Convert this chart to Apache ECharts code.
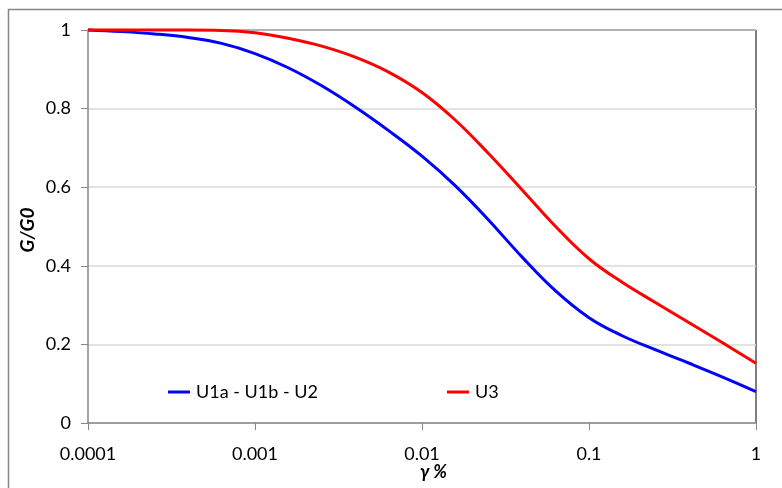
<!DOCTYPE html>
<html>
<head>
<meta charset="utf-8">
<script src="https://cdn.jsdelivr.net/npm/echarts@6/dist/echarts.min.js"></script>
<style>html,body{margin:0;padding:0;background:#fff}#c{width:782px;height:488px}</style>
</head>
<body>
<div id="c"></div>
<script>
const xTicks = [0.0001, 0.001, 0.01, 0.1, 1];
const yTicks = [0, 0.2, 0.4, 0.6, 0.8, 1];
const seriesNames = ['U1a - U1b - U2', 'U3'];
const strainX = [0.0001, 0.000158, 0.000251, 0.000398, 0.000631, 0.001, 0.00158, 0.00251, 0.00398, 0.00631, 0.01, 0.0158, 0.0251, 0.0398, 0.0631, 0.1, 0.158, 0.251, 0.398, 0.631, 1];
const blueY = [1.0, 0.996, 0.990, 0.981, 0.966, 0.940, 0.904, 0.858, 0.804, 0.744, 0.679, 0.604, 0.516, 0.422, 0.336, 0.268, 0.222, 0.186, 0.152, 0.117, 0.080];
const redY = [1.0, 1.0, 1.0, 1.0, 0.999, 0.993, 0.979, 0.959, 0.931, 0.893, 0.841, 0.771, 0.685, 0.593, 0.500, 0.418, 0.358, 0.306, 0.255, 0.204, 0.152];

const FONT = 'Lato';
const chart = echarts.init(document.getElementById('c'), null, {renderer: 'canvas'});
const pair = (xs, ys) => xs.map((x, i) => [x, ys[i]]);
const L = 88, T = 30, R = 756, B = 423;
chart.setOption({
  animation: false,
  backgroundColor: '#fff',
  grid: {left: L, top: T, right: 782 - R, bottom: 488 - B, containLabel: false},
  xAxis: {
    type: 'log', logBase: 10, min: xTicks[0], max: xTicks[xTicks.length - 1],
    axisLine: {show: true, lineStyle: {color: '#868686', width: 1.5}},
    axisTick: {show: true, length: 7, lineStyle: {color: '#868686'}},
    minorTick: {show: false},
    splitLine: {show: false},
    axisLabel: {margin: 22, color: '#000', fontFamily: FONT, fontSize: 18,
      formatter: v => String(parseFloat(Number(v).toPrecision(6)))}
  },
  yAxis: {
    type: 'value', min: yTicks[0], max: yTicks[yTicks.length - 1], interval: 0.2,
    axisLine: {show: true, lineStyle: {color: '#868686', width: 1.5}},
    axisTick: {show: true, length: 7, lineStyle: {color: '#868686'}},
    splitLine: {show: true, lineStyle: {color: '#d9d9d9', width: 1.5}},
    axisLabel: {margin: 17, color: '#000', fontFamily: FONT, fontSize: 18,
      formatter: v => String(parseFloat(Number(v).toPrecision(6)))}
  },
  legend: [
    {data: [seriesNames[0]], left: 163, top: 378, icon: 'rect', itemWidth: 22, itemHeight: 3, itemGap: 0,
     textStyle: {fontFamily: FONT, fontSize: 18, color: '#000', padding: [0, 0, 0, 1]}},
    {data: [seriesNames[1]], left: 442, top: 378, icon: 'rect', itemWidth: 22, itemHeight: 3, itemGap: 0,
     textStyle: {fontFamily: FONT, fontSize: 18, color: '#000', padding: [0, 0, 0, 1]}}
  ],
  graphic: [
    {type: 'rect', shape: {x: 8.5, y: 9.5, width: 900, height: 600}, style: {fill: 'none', stroke: '#878787', lineWidth: 1.5}, z: -1, silent: true},
    {type: 'line', shape: {x1: L, y1: T, x2: R, y2: T}, style: {stroke: '#000', lineWidth: 1.5}, z: 0, silent: true},
    {type: 'line', shape: {x1: R, y1: T, x2: R, y2: B}, style: {stroke: '#555', lineWidth: 1.5}, z: 0, silent: true},
    {type: 'text', left: 420, top: 463, style: {text: 'γ %', font: 'italic bold 18px ' + FONT, fill: '#000'}},
    {type: 'text', x: 28, y: 230, rotation: Math.PI / 2, style: {text: 'G/G0', font: 'italic bold 19px ' + FONT, fill: '#000', align: 'center', verticalAlign: 'middle'}}
  ],
  series: [
    {name: seriesNames[0], type: 'line', data: pair(strainX, blueY), smooth: 0.4, showSymbol: false, clip: false,
     lineStyle: {color: '#0000ff', width: 3}, itemStyle: {color: '#0000ff'}, z: 3},
    {name: seriesNames[1], type: 'line', data: pair(strainX, redY), smooth: 0.4, showSymbol: false, clip: false,
     lineStyle: {color: '#ff0000', width: 3}, itemStyle: {color: '#ff0000'}, z: 4}
  ]
});
</script>
</body>
</html>
